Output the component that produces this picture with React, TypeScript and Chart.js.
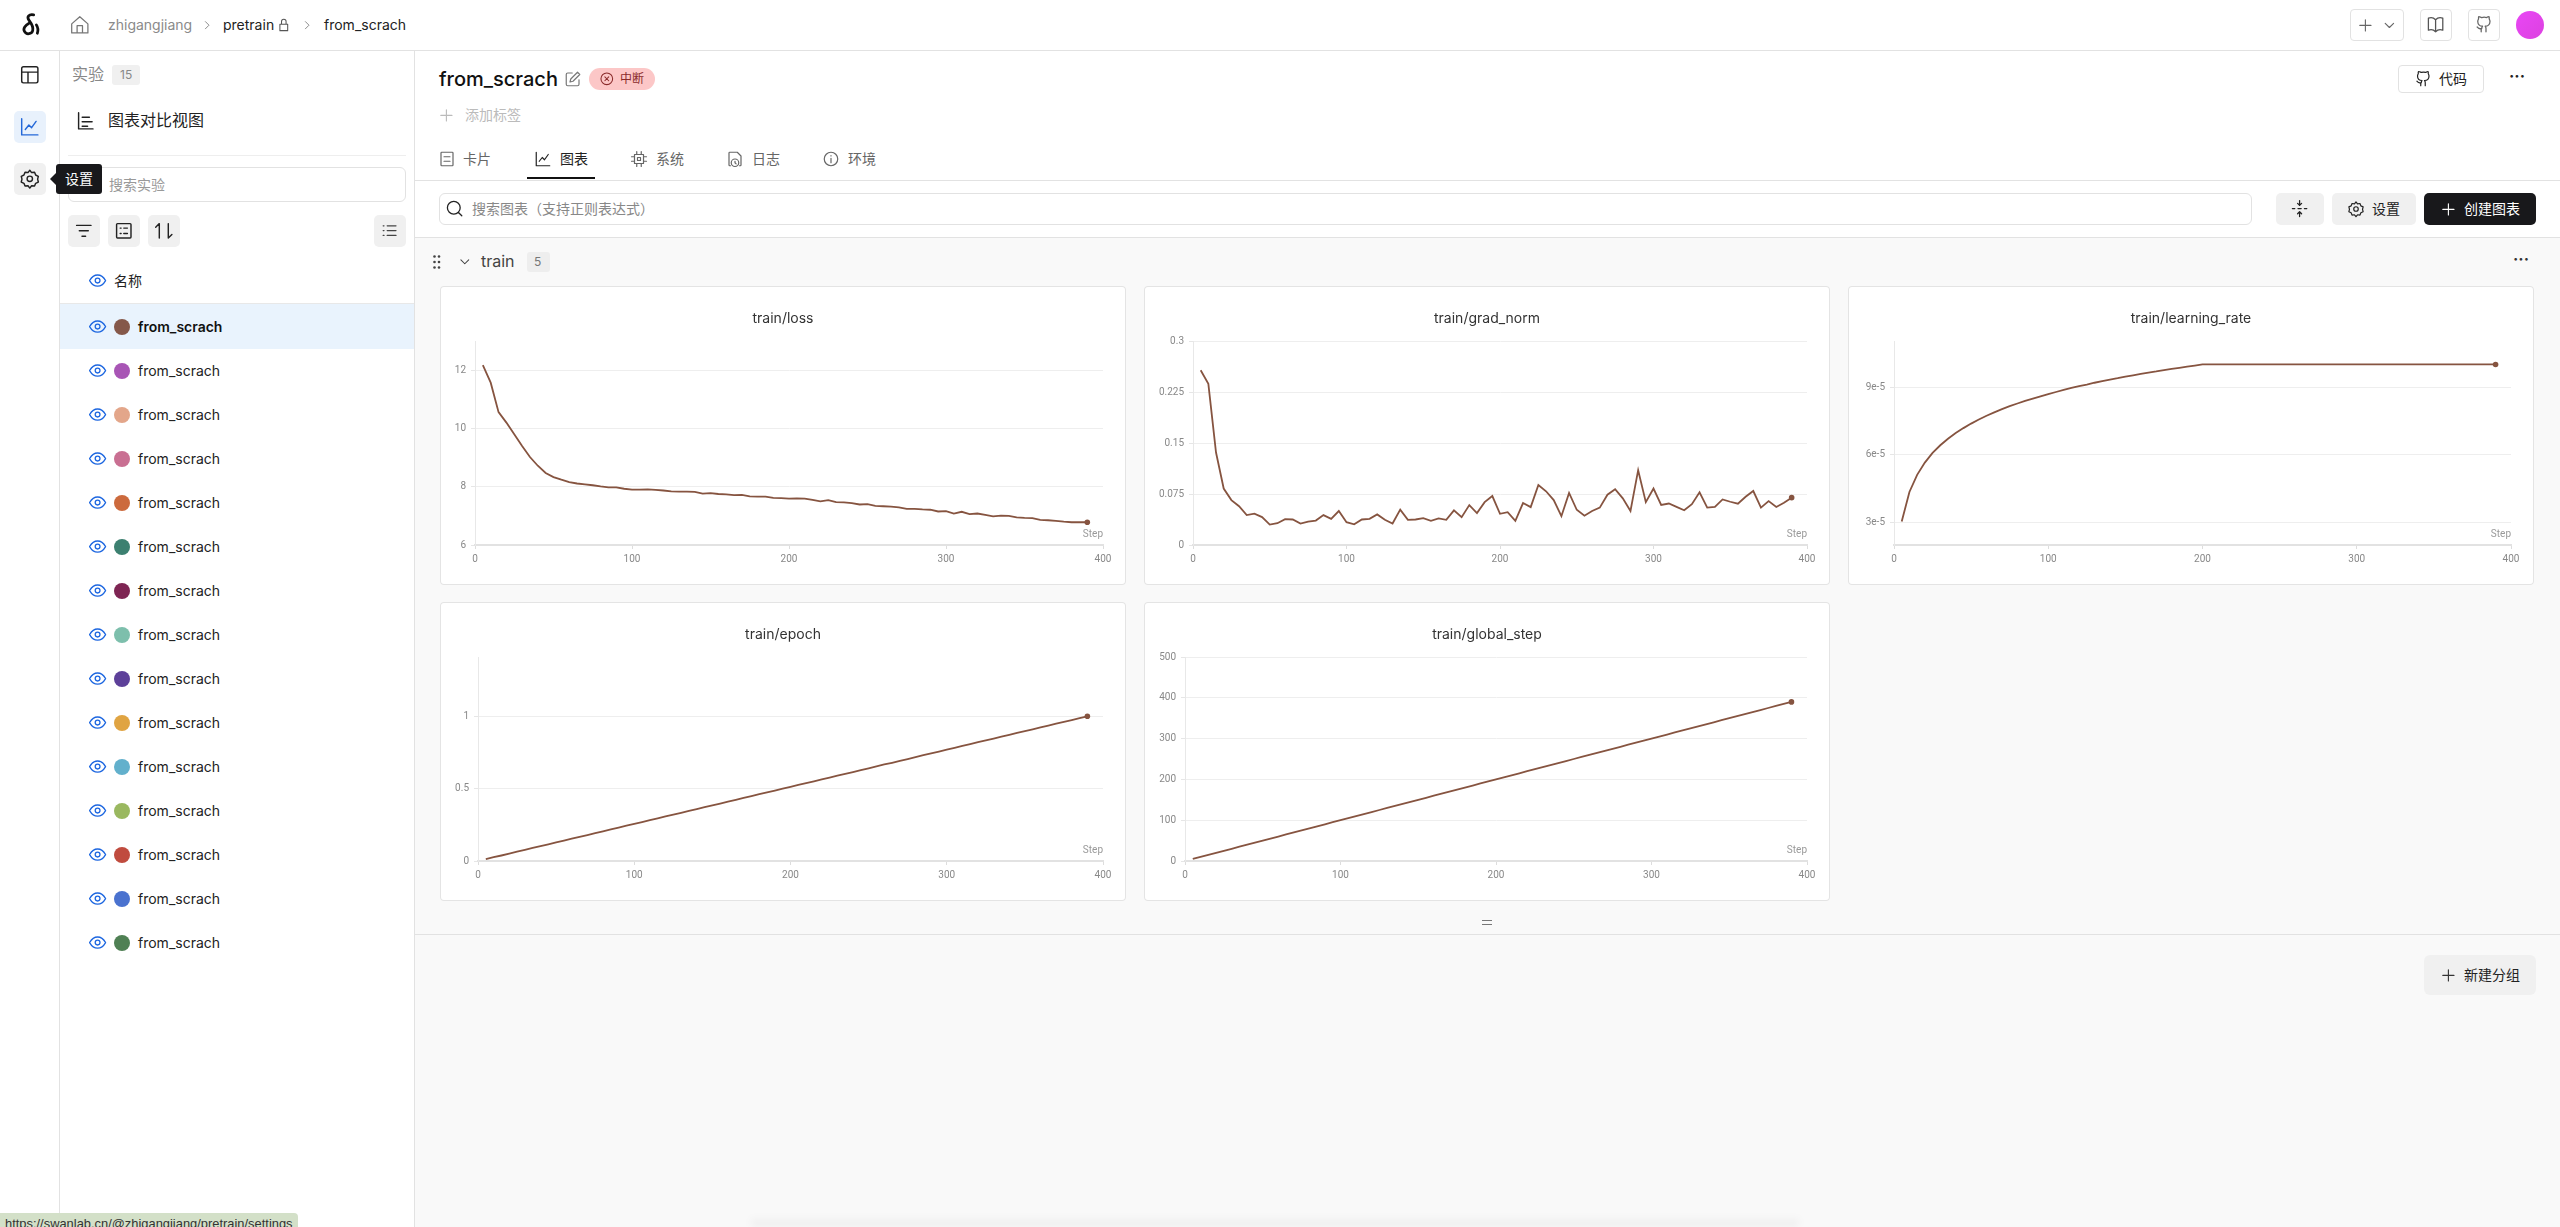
import { useEffect, useRef } from "react";
import { Chart, registerables } from "chart.js";

Chart.register(...registerables);

const UI_FONT = 'Inter, "Noto Sans CJK SC", sans-serif';
const LINE_COLOR = "#865440";

// all series share the same logging steps
const steps = [
  5, 10, 15, 20, 25, 30, 35, 40, 45, 50, 55, 60, 65, 70, 75, 80, 85, 90, 95, 100,
  105, 110, 115, 120, 125, 130, 135, 140, 145, 150, 155, 160, 165, 170, 175, 180, 185, 190, 195, 200,
  205, 210, 215, 220, 225, 230, 235, 240, 245, 250, 255, 260, 265, 270, 275, 280, 285, 290, 295, 300,
  305, 310, 315, 320, 325, 330, 335, 340, 345, 350, 355, 360, 365, 370, 375, 380, 385, 390,
];

const lossValues = [
  12.17, 11.57, 10.56, 10.2, 9.8, 9.4, 9.02, 8.72, 8.47, 8.33, 8.24, 8.16, 8.11, 8.08, 8.05, 8.01, 7.98, 7.98, 7.93, 7.9,
  7.9, 7.91, 7.89, 7.87, 7.84, 7.83, 7.83, 7.82, 7.76, 7.78, 7.75, 7.74, 7.71, 7.72, 7.67, 7.66, 7.66, 7.62, 7.61, 7.59,
  7.6, 7.59, 7.55, 7.5, 7.54, 7.47, 7.46, 7.44, 7.39, 7.4, 7.34, 7.33, 7.32, 7.29, 7.24, 7.24, 7.22, 7.21, 7.15, 7.16,
  7.08, 7.14, 7.06, 7.08, 7.03, 6.98, 7.01, 7.0, 6.95, 6.93, 6.92, 6.86, 6.85, 6.83, 6.8, 6.78, 6.78, 6.78,
];

const gradNormValues = [
  0.257, 0.237, 0.136, 0.083, 0.066, 0.057, 0.044, 0.046, 0.041, 0.03, 0.032, 0.038, 0.0375, 0.0316, 0.0345, 0.036, 0.044, 0.0385, 0.05, 0.0335,
  0.0305, 0.0375, 0.0385, 0.045, 0.037, 0.0316, 0.052, 0.037, 0.0375, 0.0395, 0.0355, 0.039, 0.037, 0.051, 0.041, 0.0587, 0.047, 0.063, 0.072, 0.0459,
  0.0483, 0.0355, 0.0617, 0.0557, 0.0883, 0.079, 0.066, 0.0424, 0.0765, 0.0518, 0.043, 0.05, 0.055, 0.074, 0.082, 0.0686, 0.05, 0.11, 0.063, 0.083,
  0.059, 0.061, 0.056, 0.051, 0.06, 0.0775, 0.055, 0.056, 0.067, 0.0636, 0.0607, 0.071, 0.0794, 0.055, 0.0646, 0.056, 0.062, 0.0696,
];

const learningRateValues = [
  3.04e-5, 4.35e-5, 5.11e-5, 5.65e-5, 6.08e-5, 6.42e-5, 6.71e-5, 6.96e-5, 7.18e-5, 7.38e-5,
  7.56e-5, 7.73e-5, 7.88e-5, 8.02e-5, 8.15e-5, 8.27e-5, 8.39e-5, 8.49e-5, 8.59e-5, 8.69e-5,
  8.78e-5, 8.87e-5, 8.96e-5, 9.04e-5, 9.11e-5, 9.19e-5, 9.26e-5, 9.33e-5, 9.39e-5, 9.46e-5,
  9.52e-5, 9.58e-5, 9.64e-5, 9.69e-5, 9.75e-5, 9.8e-5, 9.85e-5, 9.9e-5, 9.95e-5, 1e-4,
  1e-4, 1e-4, 1e-4, 1e-4, 1e-4, 1e-4, 1e-4, 1e-4, 1e-4, 1e-4, 1e-4, 1e-4, 1e-4, 1e-4, 1e-4, 1e-4, 1e-4, 1e-4, 1e-4,
  1e-4, 1e-4, 1e-4, 1e-4, 1e-4, 1e-4, 1e-4, 1e-4, 1e-4, 1e-4, 1e-4, 1e-4, 1e-4, 1e-4, 1e-4, 1e-4, 1e-4, 1e-4, 1e-4,
];

const epochValues = [
  0.013, 0.026, 0.038, 0.051, 0.064, 0.077, 0.09, 0.103, 0.115, 0.128, 0.141, 0.154, 0.167, 0.179, 0.192, 0.205, 0.218, 0.231, 0.244, 0.256,
  0.269, 0.282, 0.295, 0.308, 0.321, 0.333, 0.346, 0.359, 0.372, 0.385, 0.397, 0.41, 0.423, 0.436, 0.449, 0.462, 0.474, 0.487, 0.5, 0.513,
  0.526, 0.538, 0.551, 0.564, 0.577, 0.59, 0.603, 0.615, 0.628, 0.641, 0.654, 0.667, 0.679, 0.692, 0.705, 0.718, 0.731, 0.744, 0.756, 0.769,
  0.782, 0.795, 0.808, 0.821, 0.833, 0.846, 0.859, 0.872, 0.885, 0.897, 0.91, 0.923, 0.936, 0.949, 0.962, 0.974, 0.987, 1,
];

const globalStepValues = [
  5, 10, 15, 20, 25, 30, 35, 40, 45, 50, 55, 60, 65, 70, 75, 80, 85, 90, 95, 100,
  105, 110, 115, 120, 125, 130, 135, 140, 145, 150, 155, 160, 165, 170, 175, 180, 185, 190, 195, 200,
  205, 210, 215, 220, 225, 230, 235, 240, 245, 250, 255, 260, 265, 270, 275, 280, 285, 290, 295, 300,
  305, 310, 315, 320, 325, 330, 335, 340, 345, 350, 355, 360, 365, 370, 375, 380, 385, 390,
];

const xTicks = [0, 100, 200, 300, 400];
const lossTicks = [6, 8, 10, 12];
const gradNormTicks = [0, 0.075, 0.15, 0.225, 0.3];
const learningRateTicks = [3e-5, 6e-5, 9e-5];
const epochTicks = [0, 0.5, 1];
const globalStepTicks = [0, 100, 200, 300, 400, 500];

const runColors = [
  "#85584a", "#a855b5", "#e3a68a", "#c96f92", "#cc6a3d", "#3c8070", "#7e2553", "#7dbfac",
  "#5d4099", "#e0a442", "#62b0cc", "#9ab860", "#c04b3e", "#4a72cf", "#4f8054",
];

// draws the "Step" caption inside the plot, above the x axis
const stepLabel = {
  id: "stepLabel",
  afterDraw(chart: Chart) {
    const { ctx, chartArea } = chart;
    ctx.save();
    ctx.font = "10px Roboto";
    ctx.fillStyle = "#999";
    ctx.textAlign = "right";
    ctx.textBaseline = "middle";
    ctx.fillText("Step", chartArea.right, chartArea.bottom - 11);
    ctx.restore();
  },
};

interface MetricChartProps {
  title: string;
  values: number[];
  yTicks: number[];
  yMin: number;
  yMax: number;
  yFormat?: (v: number) => string;
  left: number;
  x: number;
  y: number;
}

function MetricChart({ title, values, yTicks, yMin, yMax, yFormat, left, x, y }: MetricChartProps) {
  const canvasRef = useRef<HTMLCanvasElement>(null);

  useEffect(() => {
    if (!canvasRef.current) return;
    const last = values.length - 1;
    const chart = new Chart(canvasRef.current, {
      type: "line",
      data: {
        labels: steps,
        datasets: [
          {
            data: values.map((v, i) => ({ x: steps[i], y: v })),
            borderColor: LINE_COLOR,
            backgroundColor: LINE_COLOR,
            borderWidth: 1.8,
            tension: 0,
            pointRadius: (c: any) => (c.dataIndex === last ? 2.8 : 0),
            pointBorderWidth: 0,
          },
        ],
      },
      options: {
        animation: false,
        responsive: false,
        plugins: {
          legend: { display: false },
          tooltip: { enabled: false },
          title: {
            display: true,
            text: title,
            color: "#333",
            font: { family: "Inter", size: 14, weight: "normal", lineHeight: 1.2 },
            padding: { top: 24, bottom: 14.2 },
          },
        },
        scales: {
          x: {
            type: "linear",
            min: 0,
            max: 400,
            afterBuildTicks: (s: any) => {
              s.ticks = xTicks.map((value) => ({ value }));
            },
            afterFit: (s: any) => {
              s.height = 40;
            },
            grid: { drawOnChartArea: false, tickLength: 4, tickColor: "#ddd" },
            border: { color: "#e2e2e2", width: 2 },
            ticks: {
              color: "#888",
              font: { family: "Roboto", size: 10 },
              padding: 4,
              maxRotation: 0,
              autoSkip: false,
            },
          },
          y: {
            min: yMin,
            max: yMax,
            afterBuildTicks: (s: any) => {
              s.ticks = yTicks.map((value) => ({ value }));
            },
            afterFit: (s: any) => {
              s.width = left;
            },
            grid: { color: "#eee", tickLength: 4, tickColor: "#e6e6e6" },
            border: { color: "#e8e8e8", width: 1 },
            ticks: {
              color: "#888",
              font: { family: "Roboto", size: 10 },
              padding: 5,
              autoSkip: false,
              callback: (v: any) => (yFormat ? yFormat(Number(v)) : String(v)),
            },
          },
          // empty axis, only reserves the gap right of the plot so the title stays centred on the card
          gap: {
            position: "right",
            min: 0,
            max: 1,
            afterFit: (s: any) => {
              s.width = 23;
            },
            grid: { display: false },
            border: { display: false },
            ticks: { display: false },
          },
        },
      },
      plugins: [stepLabel],
    });
    return () => chart.destroy();
  }, []);

  return (
    <div
      style={{
        position: "absolute",
        left: x,
        top: y,
        width: 686,
        height: 299,
        background: "#fff",
        borderRadius: 4,
        boxShadow: "inset 0 0 0 1px #e4e4e4",
      }}
    >
      <canvas ref={canvasRef} width={686} height={299} style={{ position: "absolute", left: 0, top: 0 }} />
    </div>
  );
}

function T({ x, y, size = 14, color = "#222", weight = 400, children }: any) {
  return (
    <span
      style={{
        position: "absolute",
        left: x,
        top: y,
        transform: "translateY(-50%)",
        fontSize: size,
        color,
        fontWeight: weight,
        lineHeight: 1.2,
        whiteSpace: "nowrap",
      }}
    >
      {children}
    </span>
  );
}

function B({ x, y, w, h, bg, border, r = 0 }: any) {
  return (
    <div
      style={{
        position: "absolute",
        left: x,
        top: y,
        width: w,
        height: h,
        background: bg,
        border: border ? `1px solid ${border}` : undefined,
        borderRadius: r,
        boxSizing: "border-box",
      }}
    />
  );
}

function Ico({ cx, cy, s = 16, d, color = "#333", sw = 1.6 }: any) {
  const size = s * 1.2;
  return (
    <svg
      viewBox="0 0 24 24"
      width={size}
      height={size}
      fill="none"
      stroke={color}
      strokeWidth={sw}
      strokeLinecap="round"
      strokeLinejoin="round"
      style={{ position: "absolute", left: cx - size / 2, top: cy - size / 2 }}
    >
      <path d={d} />
    </svg>
  );
}

const icons = {
  home: "M3 11 12 3l9 8v10H3zM9 21v-8h6v8",
  chevron: "M9 6l6 6-6 6",
  down: "M6 9l6 6 6-6",
  lock: "M6 11h12v10H6zM8.5 11V7a3.5 3.5 0 0 1 7 0v4",
  table: "M3 5a2 2 0 0 1 2-2h14a2 2 0 0 1 2 2v14a2 2 0 0 1-2 2H5a2 2 0 0 1-2-2zM3 9h18M10 9v12",
  chart: "M3 3v18h18M7 15l4-5 3 3 5-7",
  gear: "M12 2.5l2 2.6 3.3-.4 1.2 3.1 3 1.4-.8 3.2.8 3.2-3 1.4-1.2 3.1-3.3-.4-2 2.6-2-2.6-3.3.4-1.2-3.1-3-1.4.8-3.2-.8-3.2 3-1.4 1.2-3.1 3.3.4zM12 9a3 3 0 1 0 0 6 3 3 0 0 0 0-6z",
  bars: "M4 3v18h16M8 8h8M8 13h11M8 18h6",
  filter: "M4 6h16M7 12h10M10 18h4",
  list: "M4 5a1 1 0 0 1 1-1h14a1 1 0 0 1 1 1v14a1 1 0 0 1-1 1H5a1 1 0 0 1-1-1zM8 9h1M12 9h4M8 15h1M12 15h4",
  sort: "M7 20V4L3 8M17 4v16l4-4",
  lines: "M9 6h11M9 12h11M9 18h11M4 6h1M4 12h1M4 18h1",
  eye: "M2 12s4-7 10-7 10 7 10 7-4 7-10 7-10-7-10-7zM12 9a3 3 0 1 0 0 6 3 3 0 0 0 0-6z",
  edit: "M20 13v6a2 2 0 0 1-2 2H5a2 2 0 0 1-2-2V6a2 2 0 0 1 2-2h6M18 3l3 3-9 9-4 1 1-4z",
  xCircle: "M12 3a9 9 0 1 0 0 18 9 9 0 0 0 0-18zM9 9l6 6M15 9l-6 6",
  plus: "M12 4v16M4 12h16",
  card: "M5 3h14a1 1 0 0 1 1 1v16a1 1 0 0 1-1 1H5a1 1 0 0 1-1-1V4a1 1 0 0 1 1-1zM8 9h8M8 15h8",
  chip: "M6 6h12v12H6zM10 10h4v4h-4zM9 2v4M15 2v4M9 18v4M15 18v4M2 9h4M2 15h4M18 9h4M18 15h4",
  log: "M6 21H5a1 1 0 0 1-1-1V4a1 1 0 0 1 1-1h10l5 5v12a1 1 0 0 1-1 1h-1M12 12a5 5 0 1 0 0 10 5 5 0 0 0 0-10zM12 15v2l1.5 1.5",
  info: "M12 3a9 9 0 1 0 0 18 9 9 0 0 0 0-18zM12 11v6M12 7.5v.5",
  search: "M11 3a8 8 0 1 0 0 16 8 8 0 0 0 0-16zM21 21l-4.5-4.5",
  book: "M12 6a8 8 0 0 0-9-2v15a8 8 0 0 1 9 2 8 8 0 0 1 9-2V4a8 8 0 0 0-9 2zM12 6v15",
  github: "M9 21v-4c-3 1-4-1-5-2M15 21v-4c0-1 0-2-1-3 3 0 6-2 6-6 0-1-.3-2-1-3 .2-1 .1-2-.3-3-1 0-2 .5-3 1.200a11 11 0 0 0-6 0C8 2.500 7 2 6 2c-.4 1-.5 2-.3 3-.7 1-1 2-1 3 0 4 3 6 6 6-.7.700-1 1.500-1 3",
  fold: "M3 12h3M10 12h4M18 12h3M12 2v6M9.500 5.500 12 8l2.500-2.500M12 22v-6M9.500 18.500 12 16l2.500 2.500",
};

export default function App() {
  return (
    <div
      style={{
        position: "relative",
        width: 2560,
        height: 1227,
        overflow: "hidden",
        background: "#fff",
        fontFamily: UI_FONT,
      }}
    >
      <style>{`html,body{margin:0;overflow:hidden}`}</style>

      {/* main background */}
      <B x={414} y={238} w={2146} h={989} bg="#f9f9f9" />

      {/* top bar */}
      <B x={0} y={50} w={2560} h={1} bg="#e2e2e2" />
      <svg viewBox="0 0 24 28" width={22} height={26} style={{ position: "absolute", left: 19, top: 12 }} fill="none" stroke="#111" strokeWidth={3} strokeLinecap="round">
        <path d="M16 3C11 2 8 5 11 9c3 4 5 7 4 11-1 4-7 5-9 1-2-3 1-7 5-9M19 14c2 3 2 6 1 9" />
      </svg>
      <Ico cx={80} cy={25} s={18} d={icons.home} color="#777" sw={1.4} />
      <T x={108} y={25} color="#8a8a8a">zhigangjiang</T>
      <Ico cx={207} cy={25} s={12} d={icons.chevron} color="#888" />
      <T x={223} y={25} color="#222">pretrain</T>
      <Ico cx={284} cy={25} s={13} d={icons.lock} color="#555" />
      <Ico cx={307} cy={25} s={12} d={icons.chevron} color="#888" />
      <T x={324} y={25} color="#222">from_scrach</T>

      <B x={2350} y={9} w={54} h={32} border="#e2e2e2" r={4} />
      <Ico cx={2365} cy={25} s={14} d={icons.plus} color="#666" />
      <Ico cx={2389} cy={25} s={14} d={icons.down} color="#666" />
      <B x={2420} y={9} w={32} h={32} border="#e2e2e2" r={4} />
      <Ico cx={2436} cy={25} s={16} d={icons.book} color="#555" />
      <B x={2468} y={9} w={32} h={32} border="#e2e2e2" r={4} />
      <Ico cx={2484} cy={25} s={16} d={icons.github} color="#666" />
      <div style={{ position: "absolute", left: 2516, top: 11, width: 28, height: 28, borderRadius: "50%", background: "linear-gradient(135deg,#e947f5,#dc41e0)" }} />

      {/* left rail */}
      <B x={59} y={50} w={1} h={1177} bg="#e2e2e2" />
      <Ico cx={30} cy={75} s={18} d={icons.table} color="#222" />
      <B x={14} y={111} w={32} h={32} bg="#e8f1fc" r={5} />
      <Ico cx={30} cy={127} s={18} d={icons.chart} color="#2468d8" />
      <B x={14} y={163} w={32} h={32} bg="#f0f0f0" r={5} />
      <Ico cx={30} cy={179} s={18} d={icons.gear} color="#222" />

      {/* sidebar */}
      <B x={414} y={50} w={1} h={1177} bg="#e2e2e2" />
      <T x={72} y={75} size={16} color="#888">实验</T>
      <B x={112} y={65} w={28} h={20} bg="#f0f0f0" r={3} />
      <T x={120} y={75} size={12} color="#888">15</T>
      <Ico cx={86} cy={121} s={18} d={icons.bars} color="#222" />
      <T x={108} y={121} size={16} color="#222">图表对比视图</T>
      <B x={68} y={155} w={338} h={1} bg="#eee" />
      <B x={68} y={167} w={338} h={35} border="#e2e2e2" r={6} />
      <T x={109} y={185} color="#999">搜索实验</T>
      {[68, 108, 148, 374].map((bx) => (
        <B key={bx} x={bx} y={215} w={32} h={32} bg="#f0f0f0" r={5} />
      ))}
      <Ico cx={84} cy={231} s={18} d={icons.filter} color="#222" />
      <Ico cx={124} cy={231} s={18} d={icons.list} color="#222" />
      <Ico cx={164} cy={231} s={18} d={icons.sort} color="#222" />
      <Ico cx={390} cy={231} s={16} d={icons.lines} color="#444" />
      <Ico cx={98} cy={281} s={16} d={icons.eye} color="#1c66e0" />
      <T x={114} y={281} color="#222">名称</T>
      <B x={60} y={303} w={354} h={1} bg="#e8e8e8" />
      <B x={60} y={304} w={354} h={45} bg="#e9f3fd" />
      {runColors.map((c, i) => (
        <div key={c}>
          <Ico cx={98} cy={327 + 44 * i} s={16} d={icons.eye} color="#1c66e0" />
          <div style={{ position: "absolute", left: 114, top: 319 + 44 * i, width: 16, height: 16, borderRadius: "50%", background: c }} />
          <T x={138} y={327 + 44 * i} weight={i === 0 ? 600 : 400} color={i === 0 ? "#111" : "#222"}>from_scrach</T>
        </div>
      ))}

      {/* tooltip */}
      <div style={{ position: "absolute", left: 50, top: 172, width: 0, height: 0, borderTop: "7px solid transparent", borderBottom: "7px solid transparent", borderRight: "7px solid #18181b" }} />
      <B x={56} y={164} w={46} h={30} bg="#18181b" r={3} />
      <T x={65} y={179} color="#fff">设置</T>

      {/* experiment header */}
      <T x={439} y={79} size={20} weight={500} color="#111">from_scrach</T>
      <Ico cx={573} cy={79} s={15} d={icons.edit} color="#777" />
      <B x={589} y={68} w={66} h={22} bg="#fcc7c7" r={11} />
      <Ico cx={607} cy={79} s={13} d={icons.xCircle} color="#8a2a2a" />
      <T x={620} y={79} size={12} color="#8a2a2a">中断</T>
      <Ico cx={446} cy={115} s={14} d={icons.plus} color="#bbb" />
      <T x={465} y={115} color="#bbb">添加标签</T>
      <B x={2398} y={65} w={86} h={28} border="#e2e2e2" r={4} />
      <Ico cx={2423} cy={79} s={15} d={icons.github} color="#222" />
      <T x={2439} y={79} color="#222">代码</T>
      <T x={2509} y={77} size={16} weight={700} color="#222">···</T>

      {/* tabs */}
      <Ico cx={447} cy={159} s={15} d={icons.card} color="#666" />
      <T x={463} y={159} color="#666">卡片</T>
      <Ico cx={543} cy={159} s={15} d={icons.chart} color="#222" />
      <T x={560} y={159} color="#222">图表</T>
      <B x={527} y={177} w={68} h={2} bg="#111" />
      <Ico cx={639} cy={159} s={15} d={icons.chip} color="#666" />
      <T x={656} y={159} color="#666">系统</T>
      <Ico cx={735} cy={159} s={15} d={icons.log} color="#666" />
      <T x={752} y={159} color="#666">日志</T>
      <Ico cx={831} cy={159} s={15} d={icons.info} color="#666" />
      <T x={848} y={159} color="#666">环境</T>
      <B x={414} y={180} w={2146} h={1} bg="#e2e2e2" />

      {/* chart search row */}
      <B x={439} y={193} w={1813} h={32} border="#e2e2e2" r={6} />
      <Ico cx={455} cy={209} s={16} d={icons.search} color="#222" />
      <T x={472} y={209} color="#888">搜索图表（支持正则表达式）</T>
      <B x={2276} y={193} w={48} h={32} bg="#f0f0f0" r={5} />
      <Ico cx={2300} cy={209} s={16} d={icons.fold} color="#222" />
      <B x={2332} y={193} w={84} h={32} bg="#f0f0f0" r={5} />
      <Ico cx={2356} cy={209} s={15} d={icons.gear} color="#222" />
      <T x={2372} y={209} color="#222">设置</T>
      <B x={2424} y={193} w={112} h={32} bg="#18181b" r={5} />
      <Ico cx={2448} cy={209} s={14} d={icons.plus} color="#fff" />
      <T x={2464} y={209} color="#fff">创建图表</T>
      <B x={414} y={237} w={2146} h={1} bg="#e2e2e2" />

      {/* group header */}
      <svg width={8} height={14} style={{ position: "absolute", left: 433, top: 255 }} fill="#444">
        {[1.500, 7, 12.500].map((cy) => (
          <g key={cy}>
            <circle cx={1.500} cy={cy} r={1.300} />
            <circle cx={6} cy={cy} r={1.300} />
          </g>
        ))}
      </svg>
      <Ico cx={465} cy={262} s={13} d={icons.down} color="#444" />
      <T x={481} y={262} size={16} color="#444">train</T>
      <B x={527} y={252} w={23} h={20} bg="#eee" r={3} />
      <T x={534} y={262} size={12} color="#777">5</T>
      <T x={2513} y={260} size={16} weight={700} color="#333">···</T>

      <MetricChart title="train/loss" values={lossValues} yTicks={lossTicks} yMin={6} yMax={13} left={35} x={440} y={286} />
      <MetricChart title="train/grad_norm" values={gradNormValues} yTicks={gradNormTicks} yMin={0} yMax={0.3} left={49} x={1144} y={286} />
      <MetricChart
        title="train/learning_rate"
        values={learningRateValues}
        yTicks={learningRateTicks}
        yMin={2e-5}
        yMax={1.104e-4}
        yFormat={(v) => `${Math.round(v * 1e5)}e-5`}
        left={46}
        x={1848}
        y={286}
      />
      <MetricChart title="train/epoch" values={epochValues} yTicks={epochTicks} yMin={0} yMax={1.41} left={38} x={440} y={602} />
      <MetricChart title="train/global_step" values={globalStepValues} yTicks={globalStepTicks} yMin={0} yMax={500} left={41} x={1144} y={602} />

      {/* bottom of group */}
      <B x={1482} y={920} w={10} h={1} bg="#777" />
      <B x={1482} y={924} w={10} h={1} bg="#777" />
      <B x={414} y={934} w={2146} h={1} bg="#e2e2e2" />
      <B x={2424} y={955} w={112} h={40} bg="#f0f0f0" r={6} />
      <Ico cx={2448} cy={975} s={14} d={icons.plus} color="#333" />
      <T x={2464} y={975} color="#222">新建分组</T>

      {/* faint shadow along the bottom edge */}
      <div style={{ position: "absolute", left: 750, top: 1215, width: 1050, height: 12, background: "linear-gradient(to bottom, rgba(0,0,0,0), rgba(0,0,0,0.05))", borderRadius: 12, filter: "blur(3px)" }} />

      {/* browser status bubble */}
      <div style={{ position: "absolute", left: 0, top: 1213, width: 298, height: 14, background: "#d3e0c8", borderTopRightRadius: 4, overflow: "hidden" }}>
        <span style={{ position: "absolute", left: 5, top: 3, fontSize: 12.9, lineHeight: "16px", color: "#333", fontFamily: "Liberation Sans", whiteSpace: "nowrap" }}>
          https://swanlab.cn/@zhigangjiang/pretrain/settings
        </span>
      </div>
    </div>
  );
}
